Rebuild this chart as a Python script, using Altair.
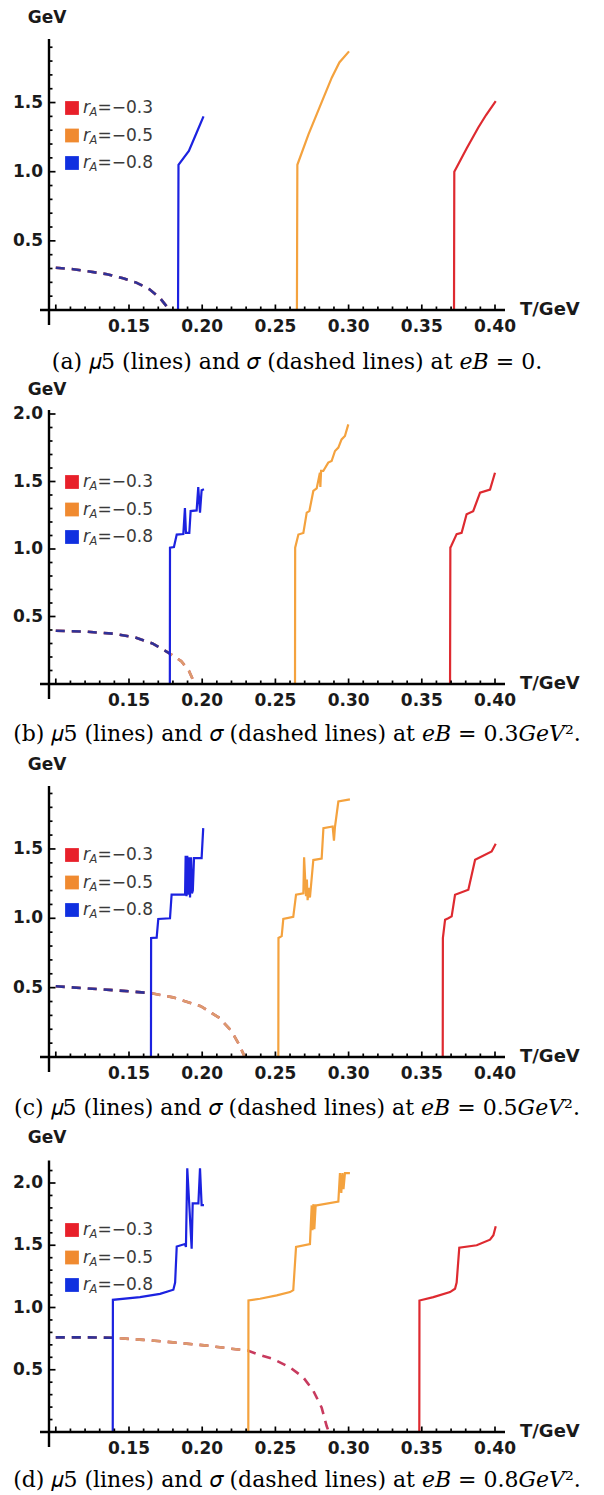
import altair as alt
import pandas as pd
import numpy as np

# ---------------- values ----------------
# T in GeV, mu5 / sigma in GeV.  Series: r_A=-0.3 (red), -0.5 (orange), -0.8 (blue)

# panel (a) eB = 0
A_RED_T  = [0.100, 0.3720, 0.3722, 0.3807, 0.3886, 0.3939, 0.4005]
A_RED_MU = [0.000, 0.000, 1.000, 1.170, 1.320, 1.410, 1.510]
A_ORA_T  = [0.100, 0.2647, 0.2650, 0.2726, 0.2819, 0.2885, 0.2937, 0.3003]
A_ORA_MU = [0.000, 0.000, 1.050, 1.270, 1.510, 1.680, 1.790, 1.870]
A_BLU_T  = [0.100, 0.1835, 0.1838, 0.1909, 0.1961, 0.2009]
A_BLU_MU = [0.000, 0.000, 1.050, 1.150, 1.280, 1.400]
A_SIG_T  = [0.100, 0.112, 0.123, 0.135, 0.146, 0.155, 0.164, 0.171, 0.176, 0.177]
A_SIG    = [0.306, 0.295, 0.278, 0.259, 0.230, 0.198, 0.150, 0.089, 0.022, 0.000]
A_TC     = [0.3720, 0.2647, 0.1835]

# panel (b) eB = 0.3 GeV^2
B_RED_T  = [0.100, 0.3693, 0.3695, 0.3700, 0.3738, 0.3772, 0.3806, 0.3851, 0.3898, 0.3966, 0.4000]
B_RED_MU = [0.000, 0.000, 1.010, 1.020, 1.110, 1.120, 1.257, 1.280, 1.417, 1.440, 1.565]
B_ORA_T  = [0.100, 0.2634, 0.2635, 0.2657, 0.2691, 0.2714, 0.2732, 0.2759, 0.2782, 0.2804,
            0.2807, 0.2812, 0.2827, 0.2861, 0.2884, 0.2907, 0.2930, 0.2952, 0.2975, 0.2998]
B_ORA_MU = [0.000, 0.000, 1.010, 1.107, 1.119, 1.269, 1.281, 1.430, 1.449, 1.565,
            1.460, 1.578, 1.578, 1.640, 1.652, 1.726, 1.751, 1.812, 1.837, 1.923]
B_BLU_T  = [0.100, 0.1779, 0.1780, 0.1807, 0.1826, 0.1871, 0.1882, 0.1889, 0.1912, 0.1921,
            0.1962, 0.1973, 0.1985, 0.1996, 0.2012]
B_BLU_MU = [0.000, 0.000, 1.010, 1.015, 1.107, 1.111, 1.304, 1.119, 1.119, 1.281,
            1.286, 1.459, 1.269, 1.435, 1.442]
B_SIG_T  = [0.100, 0.120, 0.140, 0.154, 0.166, 0.1779, 0.1856, 0.1909, 0.1935, 0.1950]
B_SIG    = [0.395, 0.388, 0.372, 0.346, 0.300, 0.225, 0.170, 0.099, 0.035, 0.000]
B_TC     = [0.3693, 0.2634, 0.1779]

# panel (c) eB = 0.5 GeV^2
C_RED_T  = [0.100, 0.3643, 0.3644, 0.3659, 0.3681, 0.3704, 0.3727, 0.3818, 0.3864, 0.3977, 0.4005]
C_RED_MU = [0.000, 0.000, 0.858, 0.990, 1.000, 1.014, 1.170, 1.206, 1.422, 1.482, 1.537]
C_ORA_T  = [0.100, 0.2520, 0.2521, 0.2543, 0.2554, 0.2622, 0.2641, 0.2691, 0.2696, 0.2709,
            0.2715, 0.2720, 0.2728, 0.2736, 0.2759, 0.2816, 0.2828, 0.2891, 0.2900, 0.2907,
            0.2930, 0.3009]
C_ORA_MU = [0.000, 0.000, 0.858, 0.871, 0.995, 1.010, 1.170, 1.180, 1.440, 1.160,
            1.280, 1.130, 1.220, 1.150, 1.420, 1.430, 1.650, 1.662, 1.560, 1.660,
            1.842, 1.858]
C_BLU_T  = [0.100, 0.1650, 0.1651, 0.1689, 0.1700, 0.1780, 0.1791, 0.1883, 0.1887, 0.1893,
            0.1898, 0.1904, 0.1910, 0.1917, 0.1924, 0.1930, 0.1936, 0.1944, 0.1996, 0.2007]
C_BLU_MU = [0.000, 0.000, 0.858, 0.860, 0.995, 1.000, 1.170, 1.170, 1.450, 1.160,
            1.450, 1.170, 1.440, 1.150, 1.440, 1.180, 1.200, 1.434, 1.434, 1.650]
C_SIG_T  = [0.100, 0.128, 0.150, 0.165, 0.180, 0.199, 0.212, 0.220, 0.2252, 0.2278, 0.2290]
C_SIG    = [0.510, 0.490, 0.474, 0.460, 0.430, 0.366, 0.280, 0.187, 0.090, 0.030, 0.000]
C_TC     = [0.3643, 0.2520, 0.1650]

# panel (d) eB = 0.8 GeV^2
D_RED_T  = [0.100, 0.3483, 0.3484, 0.3579, 0.3693, 0.3727, 0.3738, 0.3756, 0.3875, 0.3966, 0.3989, 0.4005]
D_RED_MU = [0.000, 0.000, 1.056, 1.083, 1.124, 1.151, 1.200, 1.480, 1.500, 1.545, 1.580, 1.653]
D_ORA_T  = [0.100, 0.2315, 0.2316, 0.2395, 0.2509, 0.2600, 0.2622, 0.2641, 0.2736, 0.2748,
            0.2753, 0.2760, 0.2766, 0.2775, 0.2782, 0.2930, 0.2941, 0.2950, 0.2958, 0.2965,
            0.2975, 0.3009]
D_ORA_MU = [0.000, 0.000, 1.056, 1.070, 1.097, 1.124, 1.140, 1.486, 1.510, 1.820,
            1.620, 1.830, 1.630, 1.820, 1.820, 1.850, 2.080, 1.920, 2.080, 1.950,
            2.080, 2.080]
D_BLU_T  = [0.100, 0.1389, 0.1390, 0.1575, 0.1712, 0.1803, 0.1815, 0.1826, 0.1882, 0.1889,
            0.1898, 0.1928, 0.1935, 0.1974, 0.1985, 0.1996, 0.2012]
D_BLU_MU = [0.000, 0.000, 1.062, 1.083, 1.110, 1.143, 1.200, 1.490, 1.510, 1.486,
            2.118, 1.473, 1.836, 1.836, 2.118, 1.823, 1.823]
D_SIG_T  = [0.100, 0.120, 0.1389, 0.160, 0.180, 0.203, 0.2315, 0.2372, 0.2486, 0.2600,
            0.2691, 0.2759, 0.2816, 0.2850, 0.2865]
D_SIG    = [0.760, 0.760, 0.757, 0.740, 0.720, 0.694, 0.652, 0.627, 0.586, 0.519,
            0.438, 0.331, 0.196, 0.048, 0.000]
D_TC     = [0.3483, 0.2315, 0.1389]

X_LABELS = ["0.15", "0.20", "0.25", "0.30", "0.35", "0.40"]
LEGEND_LABELS = ["=\u22120.3", "=\u22120.5", "=\u22120.8"]
LINE_COLORS = ["#de2a30", "#f4a23e", "#1c22e0"]
DASH_COLORS = ["#c83a5e", "#dc9a6e", "#2f3198"]
LEGEND_COLORS = ["#e8202a", "#f08a30", "#1030e0"]

CAPTIONS = [
    "(a) \U0001D7075 (lines) and \U0001D70E (dashed lines) at \U0001D452\U0001D435 = 0.",
    "(b) \U0001D7075 (lines) and \U0001D70E (dashed lines) at \U0001D452\U0001D435 = 0.3\U0001D43A\U0001D452\U0001D449\u00b2.",
    "(c) \U0001D7075 (lines) and \U0001D70E (dashed lines) at \U0001D452\U0001D435 = 0.5\U0001D43A\U0001D452\U0001D449\u00b2.",
    "(d) \U0001D7075 (lines) and \U0001D70E (dashed lines) at \U0001D452\U0001D435 = 0.8\U0001D43A\U0001D452\U0001D449\u00b2.",
]

# ---------------- layout (page pixels) ----------------
PAGE_L, PAGE_R = 8, 596
X015_PX, PX_PER_T = 129.0, 1464.0


def t_of(px):
    return 0.15 + (px - X015_PX) / PX_PER_T


XMIN, XMAX = t_of(PAGE_L), t_of(PAGE_R)
XAX0, XAX1, YAX_T = t_of(40), t_of(505), t_of(49)
W = PAGE_R - PAGE_L

# gev = page y of the "GeV" baseline
PANELS = [
    dict(top=8, bottom=374, base=309, ppg=138.3, ytop=1.96, yt=[0.5, 1.0, 1.5], gev=21.5, cap=361,
         red=(A_RED_T, A_RED_MU), ora=(A_ORA_T, A_ORA_MU), blu=(A_BLU_T, A_BLU_MU),
         sig=(A_SIG_T, A_SIG), tc=A_TC),
    dict(top=374, bottom=749, base=683, ppg=135.0, ytop=2.03, yt=[0.5, 1.0, 1.5, 2.0], gev=393.5, cap=733,
         red=(B_RED_T, B_RED_MU), ora=(B_ORA_T, B_ORA_MU), blu=(B_BLU_T, B_BLU_MU),
         sig=(B_SIG_T, B_SIG), tc=B_TC),
    dict(top=749, bottom=1123, base=1056, ppg=138.7, ytop=1.954, yt=[0.5, 1.0, 1.5], gev=768.5, cap=1107,
         red=(C_RED_T, C_RED_MU), ora=(C_ORA_T, C_ORA_MU), blu=(C_BLU_T, C_BLU_MU),
         sig=(C_SIG_T, C_SIG), tc=C_TC),
    dict(top=1123, bottom=1486, base=1431, ppg=124.5, ytop=2.18, yt=[0.5, 1.0, 1.5, 2.0], gev=1141.5, cap=1479,
         red=(D_RED_T, D_RED_MU), ora=(D_ORA_T, D_ORA_MU), blu=(D_BLU_T, D_BLU_MU),
         sig=(D_SIG_T, D_SIG), tc=D_TC),
]

ONE = pd.DataFrame({"k": [0]})
SANS = "DejaVu Sans"
SERIF = "DejaVu Serif"
LABEL_SIZE = 17


def make_panel(idx, p):
    top, bottom, base, ppg = p["top"], p["bottom"], p["base"], p["ppg"]
    h = bottom - top
    ysc = alt.Scale(domain=[(base - bottom) / ppg, (base - top) / ppg], nice=False, zero=False)
    xsc = alt.Scale(domain=[XMIN, XMAX], nice=False, zero=False)
    X = lambda f: alt.X(f, scale=xsc, axis=None)
    Y = lambda f: alt.Y(f, scale=ysc, axis=None)
    layers = []

    # sigma (dashed): red below, then orange, blue on top
    sT, sV = p["sig"]
    for k in range(3):
        tc = p["tc"][k]
        rows = [(t, v, i) for i, (t, v) in enumerate(zip(sT, sV)) if t <= tc + 1e-9]
        df = pd.DataFrame(rows, columns=["T", "v", "i"])
        layers.append(alt.Chart(df).mark_line(color=DASH_COLORS[k], strokeWidth=2.6,
                                              strokeDash=[9, 7]).encode(
            x=X("T:Q"), y=Y("v:Q"), order="i:Q"))

    # mu5 (solid)
    for k, key in enumerate(["red", "ora", "blu"]):
        tt, mm = p[key]
        df = pd.DataFrame({"T": tt, "v": mm, "i": list(range(len(tt)))})
        layers.append(alt.Chart(df).mark_line(color=LINE_COLORS[k], strokeWidth=2.2).encode(
            x=X("T:Q"), y=Y("v:Q"), order="i:Q"))

    # axes lines
    layers.append(alt.Chart(pd.DataFrame({"a": [XAX0], "b": [XAX1], "y": [0.0]})).mark_rule(
        color="black", strokeWidth=2.4).encode(x=X("a:Q"), x2="b:Q", y=Y("y:Q")))
    layers.append(alt.Chart(pd.DataFrame({"x": [YAX_T], "a": [-15 / ppg], "b": [p["ytop"]]})).mark_rule(
        color="black", strokeWidth=2.4).encode(x=X("x:Q"), y=Y("a:Q"), y2="b:Q"))

    # x ticks (every 0.01, major every 0.05), pointing up
    xt = np.round(np.arange(0.10, 0.4001, 0.01), 2)
    major = np.isclose((xt * 100) % 5, 0) | np.isclose((xt * 100) % 5, 5)
    xdf = pd.DataFrame({"T": xt, "a": 0.0, "b": np.where(major, 5.5, 3.5) / ppg})
    layers.append(alt.Chart(xdf).mark_rule(color="black", strokeWidth=1.7).encode(
        x=X("T:Q"), y=Y("a:Q"), y2="b:Q"))
    # y ticks (every 0.1, major every 0.5), pointing right
    yv = np.round(np.arange(0.1, p["ytop"] + 1e-9, 0.1), 1)
    ymaj = np.isclose((yv * 10) % 5, 0) | np.isclose((yv * 10) % 5, 5)
    ydf = pd.DataFrame({"v": yv, "a": YAX_T, "b": YAX_T + np.where(ymaj, 6.5, 3.5) / PX_PER_T})
    layers.append(alt.Chart(ydf).mark_rule(color="black", strokeWidth=1.7).encode(
        y=Y("v:Q"), x=X("a:Q"), x2="b:Q"))

    # tick labels
    xl = pd.DataFrame({"T": [float(s) for s in X_LABELS], "lab": X_LABELS})
    layers.append(alt.Chart(xl).mark_text(font=SANS, fontWeight="bold", fontSize=LABEL_SIZE, color="#1a1a1a",
                                          align="center", baseline="middle").encode(
        x=X("T:Q"), y=alt.value(base + 17 - top), text="lab:N"))
    yl = pd.DataFrame({"v": p["yt"], "lab": ["%.1f" % v for v in p["yt"]]})
    layers.append(alt.Chart(yl).mark_text(font=SANS, fontWeight="bold", fontSize=LABEL_SIZE, color="#1a1a1a",
                                          align="right", baseline="middle").encode(
        x=alt.value(43 - PAGE_L), y=Y("v:Q"), text="lab:N"))

    # axis titles
    layers.append(alt.Chart(ONE).mark_text(text="GeV", font=SANS, fontWeight="bold", fontSize=17,
                                           color="#1a1a1a", align="center", baseline="alphabetic").encode(
        x=alt.value(47 - PAGE_L), y=alt.value(p["gev"] - top)))
    layers.append(alt.Chart(ONE).mark_text(text="T/GeV", font=SANS, fontWeight="bold", fontSize=18,
                                           color="#1a1a1a", align="left", baseline="middle").encode(
        x=alt.value(520 - PAGE_L), y=alt.value(base - top)))

    # legend
    for k, off in enumerate([202, 174.5, 147]):
        py = base - off - top
        layers.append(alt.Chart(ONE).mark_square(size=190, color=LEGEND_COLORS[k], opacity=1).encode(
            x=alt.value(72 - PAGE_L), y=alt.value(py)))
        layers.append(alt.Chart(ONE).mark_text(text="r", font=SANS, fontStyle="italic", fontSize=17,
                                               color="#3a3a3a", align="left", baseline="middle").encode(
            x=alt.value(83 - PAGE_L), y=alt.value(py)))
        layers.append(alt.Chart(ONE).mark_text(text="A", font=SANS, fontStyle="italic", fontSize=11.5,
                                               color="#3a3a3a", align="left", baseline="middle").encode(
            x=alt.value(89.5 - PAGE_L), y=alt.value(py + 5)))
        layers.append(alt.Chart(ONE).mark_text(text=LEGEND_LABELS[k], font=SANS, fontSize=17,
                                               color="#3a3a3a", align="left", baseline="middle").encode(
            x=alt.value(97.5 - PAGE_L), y=alt.value(py)))

    # caption
    layers.append(alt.Chart(ONE).mark_text(text=CAPTIONS[idx], font=SERIF, fontSize=22, color="black",
                                           align="center", baseline="middle").encode(
        x=alt.value(297 - PAGE_L), y=alt.value(p["cap"] - top)))

    return alt.layer(*layers).properties(width=W, height=h)


panels = [make_panel(i, p) for i, p in enumerate(PANELS)]
chart = (alt.vconcat(*panels, spacing=0, bounds="flush")
         .properties(padding=0, background="white")
         .configure_view(strokeWidth=0, stroke="transparent"))

chart.save("out.html", embed_options={"renderer": "svg", "actions": False})
